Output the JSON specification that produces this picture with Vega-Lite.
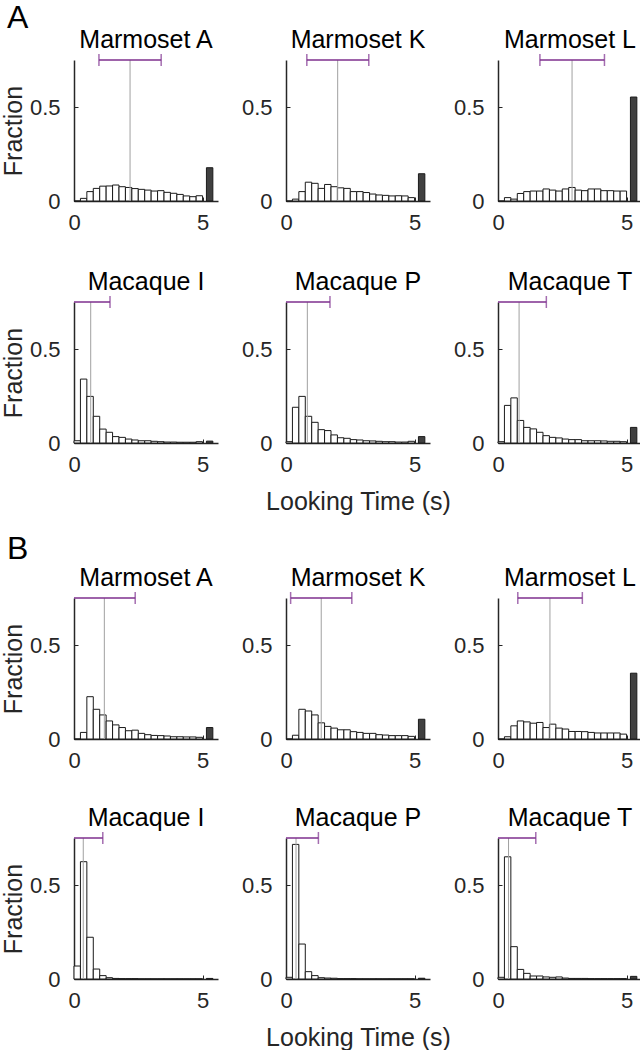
{
"$schema": "https://vega.github.io/schema/vega-lite/v6.json",
"padding": {"left": 1, "top": 2, "right": 5, "bottom": 5},
"background": "white",
"data": {"values": [
{"p":"A1","x":0,"x2":0.25,"f":0},{"p":"A1","x":0.25,"x2":0.5,"f":0.014},{"p":"A1","x":0.5,"x2":0.75,"f":0.05},{"p":"A1","x":0.75,"x2":1,"f":0.067},{"p":"A1","x":1,"x2":1.25,"f":0.079},{"p":"A1","x":1.25,"x2":1.5,"f":0.08},{"p":"A1","x":1.5,"x2":1.75,"f":0.085},{"p":"A1","x":1.75,"x2":2,"f":0.076},{"p":"A1","x":2,"x2":2.25,"f":0.072},{"p":"A1","x":2.25,"x2":2.5,"f":0.066},{"p":"A1","x":2.5,"x2":2.75,"f":0.062},{"p":"A1","x":2.75,"x2":3,"f":0.058},{"p":"A1","x":3,"x2":3.25,"f":0.053},{"p":"A1","x":3.25,"x2":3.5,"f":0.055},{"p":"A1","x":3.5,"x2":3.75,"f":0.046},{"p":"A1","x":3.75,"x2":4,"f":0.041},{"p":"A1","x":4,"x2":4.25,"f":0.035},{"p":"A1","x":4.25,"x2":4.5,"f":0.027},{"p":"A1","x":4.5,"x2":4.75,"f":0.023},{"p":"A1","x":4.75,"x2":5,"f":0.028},{"p":"A1","x":5.15,"x2":5.4,"f":0.177},
{"p":"A2","x":0,"x2":0.25,"f":0},{"p":"A2","x":0.25,"x2":0.5,"f":0.01},{"p":"A2","x":0.5,"x2":0.75,"f":0.05},{"p":"A2","x":0.75,"x2":1,"f":0.1},{"p":"A2","x":1,"x2":1.25,"f":0.094},{"p":"A2","x":1.25,"x2":1.5,"f":0.067},{"p":"A2","x":1.5,"x2":1.75,"f":0.088},{"p":"A2","x":1.75,"x2":2,"f":0.076},{"p":"A2","x":2,"x2":2.25,"f":0.07},{"p":"A2","x":2.25,"x2":2.5,"f":0.067},{"p":"A2","x":2.5,"x2":2.75,"f":0.05},{"p":"A2","x":2.75,"x2":3,"f":0.05},{"p":"A2","x":3,"x2":3.25,"f":0.045},{"p":"A2","x":3.25,"x2":3.5,"f":0.037},{"p":"A2","x":3.5,"x2":3.75,"f":0.032},{"p":"A2","x":3.75,"x2":4,"f":0.03},{"p":"A2","x":4,"x2":4.25,"f":0.027},{"p":"A2","x":4.25,"x2":4.5,"f":0.028},{"p":"A2","x":4.5,"x2":4.75,"f":0.027},{"p":"A2","x":4.75,"x2":5,"f":0.018},{"p":"A2","x":5.15,"x2":5.4,"f":0.145},
{"p":"A3","x":0,"x2":0.25,"f":0},{"p":"A3","x":0.25,"x2":0.5,"f":0.018},{"p":"A3","x":0.5,"x2":0.75,"f":0.01},{"p":"A3","x":0.75,"x2":1,"f":0.04},{"p":"A3","x":1,"x2":1.25,"f":0.05},{"p":"A3","x":1.25,"x2":1.5,"f":0.053},{"p":"A3","x":1.5,"x2":1.75,"f":0.053},{"p":"A3","x":1.75,"x2":2,"f":0.064},{"p":"A3","x":2,"x2":2.25,"f":0.058},{"p":"A3","x":2.25,"x2":2.5,"f":0.053},{"p":"A3","x":2.5,"x2":2.75,"f":0.064},{"p":"A3","x":2.75,"x2":3,"f":0.072},{"p":"A3","x":3,"x2":3.25,"f":0.058},{"p":"A3","x":3.25,"x2":3.5,"f":0.055},{"p":"A3","x":3.5,"x2":3.75,"f":0.064},{"p":"A3","x":3.75,"x2":4,"f":0.064},{"p":"A3","x":4,"x2":4.25,"f":0.055},{"p":"A3","x":4.25,"x2":4.5,"f":0.055},{"p":"A3","x":4.5,"x2":4.75,"f":0.053},{"p":"A3","x":4.75,"x2":5,"f":0.053},{"p":"A3","x":5.15,"x2":5.4,"f":0.553},
{"p":"A4","x":0,"x2":0.25,"f":0.012},{"p":"A4","x":0.25,"x2":0.5,"f":0.34},{"p":"A4","x":0.5,"x2":0.75,"f":0.248},{"p":"A4","x":0.75,"x2":1,"f":0.142},{"p":"A4","x":1,"x2":1.25,"f":0.074},{"p":"A4","x":1.25,"x2":1.5,"f":0.057},{"p":"A4","x":1.5,"x2":1.75,"f":0.034},{"p":"A4","x":1.75,"x2":2,"f":0.03},{"p":"A4","x":2,"x2":2.25,"f":0.021},{"p":"A4","x":2.25,"x2":2.5,"f":0.016},{"p":"A4","x":2.5,"x2":2.75,"f":0.012},{"p":"A4","x":2.75,"x2":3,"f":0.012},{"p":"A4","x":3,"x2":3.25,"f":0.009},{"p":"A4","x":3.25,"x2":3.5,"f":0.007},{"p":"A4","x":3.5,"x2":3.75,"f":0.005},{"p":"A4","x":3.75,"x2":4,"f":0.005},{"p":"A4","x":4,"x2":4.25,"f":0.004},{"p":"A4","x":4.25,"x2":4.5,"f":0.004},{"p":"A4","x":4.5,"x2":4.75,"f":0.004},{"p":"A4","x":4.75,"x2":5,"f":0.007},{"p":"A4","x":5.15,"x2":5.4,"f":0.01},
{"p":"A5","x":0,"x2":0.25,"f":0.007},{"p":"A5","x":0.25,"x2":0.5,"f":0.19},{"p":"A5","x":0.5,"x2":0.75,"f":0.248},{"p":"A5","x":0.75,"x2":1,"f":0.142},{"p":"A5","x":1,"x2":1.25,"f":0.11},{"p":"A5","x":1.25,"x2":1.5,"f":0.071},{"p":"A5","x":1.5,"x2":1.75,"f":0.066},{"p":"A5","x":1.75,"x2":2,"f":0.043},{"p":"A5","x":2,"x2":2.25,"f":0.028},{"p":"A5","x":2.25,"x2":2.5,"f":0.025},{"p":"A5","x":2.5,"x2":2.75,"f":0.018},{"p":"A5","x":2.75,"x2":3,"f":0.016},{"p":"A5","x":3,"x2":3.25,"f":0.012},{"p":"A5","x":3.25,"x2":3.5,"f":0.011},{"p":"A5","x":3.5,"x2":3.75,"f":0.009},{"p":"A5","x":3.75,"x2":4,"f":0.007},{"p":"A5","x":4,"x2":4.25,"f":0.007},{"p":"A5","x":4.25,"x2":4.5,"f":0.005},{"p":"A5","x":4.5,"x2":4.75,"f":0.005},{"p":"A5","x":4.75,"x2":5,"f":0.009},{"p":"A5","x":5.15,"x2":5.4,"f":0.034},
{"p":"A6","x":0,"x2":0.25,"f":0.007},{"p":"A6","x":0.25,"x2":0.5,"f":0.2},{"p":"A6","x":0.5,"x2":0.75,"f":0.24},{"p":"A6","x":0.75,"x2":1,"f":0.12},{"p":"A6","x":1,"x2":1.25,"f":0.083},{"p":"A6","x":1.25,"x2":1.5,"f":0.075},{"p":"A6","x":1.5,"x2":1.75,"f":0.057},{"p":"A6","x":1.75,"x2":2,"f":0.039},{"p":"A6","x":2,"x2":2.25,"f":0.03},{"p":"A6","x":2.25,"x2":2.5,"f":0.027},{"p":"A6","x":2.5,"x2":2.75,"f":0.021},{"p":"A6","x":2.75,"x2":3,"f":0.018},{"p":"A6","x":3,"x2":3.25,"f":0.018},{"p":"A6","x":3.25,"x2":3.5,"f":0.012},{"p":"A6","x":3.5,"x2":3.75,"f":0.012},{"p":"A6","x":3.75,"x2":4,"f":0.012},{"p":"A6","x":4,"x2":4.25,"f":0.011},{"p":"A6","x":4.25,"x2":4.5,"f":0.009},{"p":"A6","x":4.5,"x2":4.75,"f":0.009},{"p":"A6","x":4.75,"x2":5,"f":0.007},{"p":"A6","x":5.15,"x2":5.4,"f":0.083},
{"p":"B1","x":0,"x2":0.25,"f":0},{"p":"B1","x":0.25,"x2":0.5,"f":0.035},{"p":"B1","x":0.5,"x2":0.75,"f":0.225},{"p":"B1","x":0.75,"x2":1,"f":0.158},{"p":"B1","x":1,"x2":1.25,"f":0.128},{"p":"B1","x":1.25,"x2":1.5,"f":0.096},{"p":"B1","x":1.5,"x2":1.75,"f":0.075},{"p":"B1","x":1.75,"x2":2,"f":0.061},{"p":"B1","x":2,"x2":2.25,"f":0.044},{"p":"B1","x":2.25,"x2":2.5,"f":0.047},{"p":"B1","x":2.5,"x2":2.75,"f":0.03},{"p":"B1","x":2.75,"x2":3,"f":0.023},{"p":"B1","x":3,"x2":3.25,"f":0.019},{"p":"B1","x":3.25,"x2":3.5,"f":0.018},{"p":"B1","x":3.5,"x2":3.75,"f":0.016},{"p":"B1","x":3.75,"x2":4,"f":0.012},{"p":"B1","x":4,"x2":4.25,"f":0.012},{"p":"B1","x":4.25,"x2":4.5,"f":0.011},{"p":"B1","x":4.5,"x2":4.75,"f":0.011},{"p":"B1","x":4.75,"x2":5,"f":0.009},{"p":"B1","x":5.15,"x2":5.4,"f":0.061},
{"p":"B2","x":0,"x2":0.25,"f":0},{"p":"B2","x":0.25,"x2":0.5,"f":0.02},{"p":"B2","x":0.5,"x2":0.75,"f":0.158},{"p":"B2","x":0.75,"x2":1,"f":0.149},{"p":"B2","x":1,"x2":1.25,"f":0.128},{"p":"B2","x":1.25,"x2":1.5,"f":0.086},{"p":"B2","x":1.5,"x2":1.75,"f":0.067},{"p":"B2","x":1.75,"x2":2,"f":0.058},{"p":"B2","x":2,"x2":2.25,"f":0.049},{"p":"B2","x":2.25,"x2":2.5,"f":0.049},{"p":"B2","x":2.5,"x2":2.75,"f":0.039},{"p":"B2","x":2.75,"x2":3,"f":0.035},{"p":"B2","x":3,"x2":3.25,"f":0.03},{"p":"B2","x":3.25,"x2":3.5,"f":0.03},{"p":"B2","x":3.5,"x2":3.75,"f":0.023},{"p":"B2","x":3.75,"x2":4,"f":0.021},{"p":"B2","x":4,"x2":4.25,"f":0.018},{"p":"B2","x":4.25,"x2":4.5,"f":0.018},{"p":"B2","x":4.5,"x2":4.75,"f":0.018},{"p":"B2","x":4.75,"x2":5,"f":0.014},{"p":"B2","x":5.15,"x2":5.4,"f":0.105},
{"p":"B3","x":0,"x2":0.25,"f":0},{"p":"B3","x":0.25,"x2":0.5,"f":0.012},{"p":"B3","x":0.5,"x2":0.75,"f":0.07},{"p":"B3","x":0.75,"x2":1,"f":0.096},{"p":"B3","x":1,"x2":1.25,"f":0.091},{"p":"B3","x":1.25,"x2":1.5,"f":0.084},{"p":"B3","x":1.5,"x2":1.75,"f":0.088},{"p":"B3","x":1.75,"x2":2,"f":0.061},{"p":"B3","x":2,"x2":2.25,"f":0.079},{"p":"B3","x":2.25,"x2":2.5,"f":0.058},{"p":"B3","x":2.5,"x2":2.75,"f":0.053},{"p":"B3","x":2.75,"x2":3,"f":0.04},{"p":"B3","x":3,"x2":3.25,"f":0.04},{"p":"B3","x":3.25,"x2":3.5,"f":0.039},{"p":"B3","x":3.5,"x2":3.75,"f":0.035},{"p":"B3","x":3.75,"x2":4,"f":0.032},{"p":"B3","x":4,"x2":4.25,"f":0.032},{"p":"B3","x":4.25,"x2":4.5,"f":0.032},{"p":"B3","x":4.5,"x2":4.75,"f":0.032},{"p":"B3","x":4.75,"x2":5,"f":0.026},{"p":"B3","x":5.15,"x2":5.4,"f":0.35},
{"p":"B4","x":0,"x2":0.25,"f":0.069},{"p":"B4","x":0.25,"x2":0.5,"f":0.624},{"p":"B4","x":0.5,"x2":0.75,"f":0.222},{"p":"B4","x":0.75,"x2":1,"f":0.053},{"p":"B4","x":1,"x2":1.25,"f":0.018},{"p":"B4","x":1.25,"x2":1.5,"f":0.007},{"p":"B4","x":1.5,"x2":1.75,"f":0.003},{"p":"B4","x":1.75,"x2":2,"f":0.002},{"p":"B4","x":2,"x2":2.25,"f":0.002},{"p":"B4","x":2.25,"x2":2.5,"f":0.002},{"p":"B4","x":2.5,"x2":2.75,"f":0.001},{"p":"B4","x":2.75,"x2":3,"f":0.001},{"p":"B4","x":3,"x2":3.25,"f":0.001},{"p":"B4","x":3.25,"x2":3.5,"f":0.001},{"p":"B4","x":3.5,"x2":3.75,"f":0.001},{"p":"B4","x":3.75,"x2":4,"f":0.001},{"p":"B4","x":4,"x2":4.25,"f":0.001},{"p":"B4","x":4.25,"x2":4.5,"f":0.001},{"p":"B4","x":4.5,"x2":4.75,"f":0.001},{"p":"B4","x":4.75,"x2":5,"f":0.001},{"p":"B4","x":5.15,"x2":5.4,"f":0.003},
{"p":"B5","x":0,"x2":0.25,"f":0.009},{"p":"B5","x":0.25,"x2":0.5,"f":0.716},{"p":"B5","x":0.5,"x2":0.75,"f":0.186},{"p":"B5","x":0.75,"x2":1,"f":0.039},{"p":"B5","x":1,"x2":1.25,"f":0.018},{"p":"B5","x":1.25,"x2":1.5,"f":0.007},{"p":"B5","x":1.5,"x2":1.75,"f":0.005},{"p":"B5","x":1.75,"x2":2,"f":0.004},{"p":"B5","x":2,"x2":2.25,"f":0.002},{"p":"B5","x":2.25,"x2":2.5,"f":0.002},{"p":"B5","x":2.5,"x2":2.75,"f":0.002},{"p":"B5","x":2.75,"x2":3,"f":0.001},{"p":"B5","x":3,"x2":3.25,"f":0.001},{"p":"B5","x":3.25,"x2":3.5,"f":0.001},{"p":"B5","x":3.5,"x2":3.75,"f":0.001},{"p":"B5","x":3.75,"x2":4,"f":0.001},{"p":"B5","x":4,"x2":4.25,"f":0.001},{"p":"B5","x":4.25,"x2":4.5,"f":0.001},{"p":"B5","x":4.5,"x2":4.75,"f":0.001},{"p":"B5","x":4.75,"x2":5,"f":0.001},{"p":"B5","x":5.15,"x2":5.4,"f":0.004},
{"p":"B6","x":0,"x2":0.25,"f":0.009},{"p":"B6","x":0.25,"x2":0.5,"f":0.65},{"p":"B6","x":0.5,"x2":0.75,"f":0.172},{"p":"B6","x":0.75,"x2":1,"f":0.051},{"p":"B6","x":1,"x2":1.25,"f":0.03},{"p":"B6","x":1.25,"x2":1.5,"f":0.016},{"p":"B6","x":1.5,"x2":1.75,"f":0.016},{"p":"B6","x":1.75,"x2":2,"f":0.011},{"p":"B6","x":2,"x2":2.25,"f":0.009},{"p":"B6","x":2.25,"x2":2.5,"f":0.011},{"p":"B6","x":2.5,"x2":2.75,"f":0.005},{"p":"B6","x":2.75,"x2":3,"f":0.003},{"p":"B6","x":3,"x2":3.25,"f":0.003},{"p":"B6","x":3.25,"x2":3.5,"f":0.003},{"p":"B6","x":3.5,"x2":3.75,"f":0.002},{"p":"B6","x":3.75,"x2":4,"f":0.002},{"p":"B6","x":4,"x2":4.25,"f":0.002},{"p":"B6","x":4.25,"x2":4.5,"f":0.002},{"p":"B6","x":4.5,"x2":4.75,"f":0.002},{"p":"B6","x":4.75,"x2":5,"f":0.002},{"p":"B6","x":5.15,"x2":5.4,"f":0.014},
{"p":"A1","m":2.18,"lo":0.97,"hi":3.39},
{"p":"A2","m":2.01,"lo":0.81,"hi":3.22},
{"p":"A3","m":2.88,"lo":1.63,"hi":4.14},
{"p":"A4","m":0.65,"lo":0,"hi":1.4},
{"p":"A5","m":0.83,"lo":0,"hi":1.71},
{"p":"A6","m":0.82,"lo":0,"hi":1.88},
{"p":"B1","m":1.18,"lo":0,"hi":2.38},
{"p":"B2","m":1.37,"lo":0.18,"hi":2.56},
{"p":"B3","m":2.02,"lo":0.77,"hi":3.28},
{"p":"B4","m":0.36,"lo":0,"hi":1.12},
{"p":"B5","m":0.39,"lo":0,"hi":1.26},
{"p":"B6","m":0.41,"lo":0,"hi":1.47}
]},
"config": {
 "font": "Liberation Sans",
 "view": {"stroke": null},
 "scale": {"continuousPadding": 0},
 "axis": {"grid": false, "labelFlush": false, "domainColor": "#262626", "domainWidth": 1.5, "tickColor": "#262626", "tickSize": -4, "tickWidth": 1, "labelFontSize": 22, "labelColor": "#262626", "titleFontSize": 25, "titleFontWeight": "normal", "titleColor": "#262626", "labelFont": "Liberation Sans", "titleFont": "Liberation Sans"},
 "axisX": {"labelPadding": 15, "titlePadding": 14},
 "axisY": {"labelPadding": 18, "titlePadding": 3},
 "title": {"fontSize": 25, "fontWeight": "normal", "color": "#000000", "frame": "group", "offset": 1, "font": "Liberation Sans"}
},
"spacing": 19,
"vconcat": [
{"title": {"text": "A", "anchor": "start", "fontSize": 32, "dx": -67, "offset": -7}, "spacing": 37, "vconcat": [
 {"spacing": 68, "bounds": "flush", "hconcat": [
  {"width": 144, "height": 141, "title": "Marmoset A", "transform": [{"filter": {"field": "p", "equal": "A1"}}], "layer": [
   {"transform": [{"filter": "isValid(datum.f)"}], "mark": {"type": "rect", "stroke": "#1a1a1a", "strokeWidth": 1}, "encoding": {"x": {"field": "x", "type": "quantitative", "scale": {"domain": [0, 5.6], "nice": false, "padding": 0}, "axis": {"values": [0, 5], "format": "~g", "title": null}}, "x2": {"field": "x2"}, "y": {"field": "f", "type": "quantitative", "scale": {"domain": [0, 0.75], "nice": false, "padding": 0}, "axis": {"values": [0, 0.5], "format": "~g", "title": "Fraction"}}, "y2": {"datum": 0}, "fill": {"condition": {"test": "datum.x > 5", "value": "#404040"}, "value": "#ffffff"}}},
   {"transform": [{"filter": "isValid(datum.m)"}], "mark": {"type": "rule", "color": "#a0a0a0", "strokeWidth": 1}, "encoding": {"x": {"field": "m", "type": "quantitative"}, "y": {"datum": 0}, "y2": {"datum": 0.75}}},
   {"transform": [{"filter": "isValid(datum.m)"}], "mark": {"type": "rule", "color": "#7e2f8e", "strokeWidth": 1.5}, "encoding": {"x": {"field": "lo", "type": "quantitative"}, "x2": {"field": "hi"}, "y": {"datum": 0.75}}},
   {"transform": [{"filter": "isValid(datum.m)"}, {"fold": ["lo", "hi"]}, {"filter": "datum.value > 0"}], "mark": {"type": "tick", "orient": "vertical", "color": "#7e2f8e", "size": 12, "thickness": 1.5}, "encoding": {"x": {"field": "value", "type": "quantitative"}, "y": {"datum": 0.75}}}
  ]},
  {"width": 144, "height": 141, "title": "Marmoset K", "transform": [{"filter": {"field": "p", "equal": "A2"}}], "layer": [
   {"transform": [{"filter": "isValid(datum.f)"}], "mark": {"type": "rect", "stroke": "#1a1a1a", "strokeWidth": 1}, "encoding": {"x": {"field": "x", "type": "quantitative", "scale": {"domain": [0, 5.6], "nice": false, "padding": 0}, "axis": {"values": [0, 5], "format": "~g", "title": null}}, "x2": {"field": "x2"}, "y": {"field": "f", "type": "quantitative", "scale": {"domain": [0, 0.75], "nice": false, "padding": 0}, "axis": {"values": [0, 0.5], "format": "~g", "title": null}}, "y2": {"datum": 0}, "fill": {"condition": {"test": "datum.x > 5", "value": "#404040"}, "value": "#ffffff"}}},
   {"transform": [{"filter": "isValid(datum.m)"}], "mark": {"type": "rule", "color": "#a0a0a0", "strokeWidth": 1}, "encoding": {"x": {"field": "m", "type": "quantitative"}, "y": {"datum": 0}, "y2": {"datum": 0.75}}},
   {"transform": [{"filter": "isValid(datum.m)"}], "mark": {"type": "rule", "color": "#7e2f8e", "strokeWidth": 1.5}, "encoding": {"x": {"field": "lo", "type": "quantitative"}, "x2": {"field": "hi"}, "y": {"datum": 0.75}}},
   {"transform": [{"filter": "isValid(datum.m)"}, {"fold": ["lo", "hi"]}, {"filter": "datum.value > 0"}], "mark": {"type": "tick", "orient": "vertical", "color": "#7e2f8e", "size": 12, "thickness": 1.5}, "encoding": {"x": {"field": "value", "type": "quantitative"}, "y": {"datum": 0.75}}}
  ]},
  {"width": 144, "height": 141, "title": "Marmoset L", "transform": [{"filter": {"field": "p", "equal": "A3"}}], "layer": [
   {"transform": [{"filter": "isValid(datum.f)"}], "mark": {"type": "rect", "stroke": "#1a1a1a", "strokeWidth": 1}, "encoding": {"x": {"field": "x", "type": "quantitative", "scale": {"domain": [0, 5.6], "nice": false, "padding": 0}, "axis": {"values": [0, 5], "format": "~g", "title": null}}, "x2": {"field": "x2"}, "y": {"field": "f", "type": "quantitative", "scale": {"domain": [0, 0.75], "nice": false, "padding": 0}, "axis": {"values": [0, 0.5], "format": "~g", "title": null}}, "y2": {"datum": 0}, "fill": {"condition": {"test": "datum.x > 5", "value": "#404040"}, "value": "#ffffff"}}},
   {"transform": [{"filter": "isValid(datum.m)"}], "mark": {"type": "rule", "color": "#a0a0a0", "strokeWidth": 1}, "encoding": {"x": {"field": "m", "type": "quantitative"}, "y": {"datum": 0}, "y2": {"datum": 0.75}}},
   {"transform": [{"filter": "isValid(datum.m)"}], "mark": {"type": "rule", "color": "#7e2f8e", "strokeWidth": 1.5}, "encoding": {"x": {"field": "lo", "type": "quantitative"}, "x2": {"field": "hi"}, "y": {"datum": 0.75}}},
   {"transform": [{"filter": "isValid(datum.m)"}, {"fold": ["lo", "hi"]}, {"filter": "datum.value > 0"}], "mark": {"type": "tick", "orient": "vertical", "color": "#7e2f8e", "size": 12, "thickness": 1.5}, "encoding": {"x": {"field": "value", "type": "quantitative"}, "y": {"datum": 0.75}}}
  ]}
 ]},
 {"spacing": 68, "bounds": "flush", "hconcat": [
  {"width": 144, "height": 141, "title": "Macaque I", "transform": [{"filter": {"field": "p", "equal": "A4"}}], "layer": [
   {"transform": [{"filter": "isValid(datum.f)"}], "mark": {"type": "rect", "stroke": "#1a1a1a", "strokeWidth": 1}, "encoding": {"x": {"field": "x", "type": "quantitative", "scale": {"domain": [0, 5.6], "nice": false, "padding": 0}, "axis": {"values": [0, 5], "format": "~g", "title": null}}, "x2": {"field": "x2"}, "y": {"field": "f", "type": "quantitative", "scale": {"domain": [0, 0.75], "nice": false, "padding": 0}, "axis": {"values": [0, 0.5], "format": "~g", "title": "Fraction"}}, "y2": {"datum": 0}, "fill": {"condition": {"test": "datum.x > 5", "value": "#404040"}, "value": "#ffffff"}}},
   {"transform": [{"filter": "isValid(datum.m)"}], "mark": {"type": "rule", "color": "#a0a0a0", "strokeWidth": 1}, "encoding": {"x": {"field": "m", "type": "quantitative"}, "y": {"datum": 0}, "y2": {"datum": 0.75}}},
   {"transform": [{"filter": "isValid(datum.m)"}], "mark": {"type": "rule", "color": "#7e2f8e", "strokeWidth": 1.5}, "encoding": {"x": {"field": "lo", "type": "quantitative"}, "x2": {"field": "hi"}, "y": {"datum": 0.75}}},
   {"transform": [{"filter": "isValid(datum.m)"}, {"fold": ["lo", "hi"]}, {"filter": "datum.value > 0"}], "mark": {"type": "tick", "orient": "vertical", "color": "#7e2f8e", "size": 12, "thickness": 1.5}, "encoding": {"x": {"field": "value", "type": "quantitative"}, "y": {"datum": 0.75}}}
  ]},
  {"width": 144, "height": 141, "title": "Macaque P", "transform": [{"filter": {"field": "p", "equal": "A5"}}], "layer": [
   {"transform": [{"filter": "isValid(datum.f)"}], "mark": {"type": "rect", "stroke": "#1a1a1a", "strokeWidth": 1}, "encoding": {"x": {"field": "x", "type": "quantitative", "scale": {"domain": [0, 5.6], "nice": false, "padding": 0}, "axis": {"values": [0, 5], "format": "~g", "title": "Looking Time (s)"}}, "x2": {"field": "x2"}, "y": {"field": "f", "type": "quantitative", "scale": {"domain": [0, 0.75], "nice": false, "padding": 0}, "axis": {"values": [0, 0.5], "format": "~g", "title": null}}, "y2": {"datum": 0}, "fill": {"condition": {"test": "datum.x > 5", "value": "#404040"}, "value": "#ffffff"}}},
   {"transform": [{"filter": "isValid(datum.m)"}], "mark": {"type": "rule", "color": "#a0a0a0", "strokeWidth": 1}, "encoding": {"x": {"field": "m", "type": "quantitative"}, "y": {"datum": 0}, "y2": {"datum": 0.75}}},
   {"transform": [{"filter": "isValid(datum.m)"}], "mark": {"type": "rule", "color": "#7e2f8e", "strokeWidth": 1.5}, "encoding": {"x": {"field": "lo", "type": "quantitative"}, "x2": {"field": "hi"}, "y": {"datum": 0.75}}},
   {"transform": [{"filter": "isValid(datum.m)"}, {"fold": ["lo", "hi"]}, {"filter": "datum.value > 0"}], "mark": {"type": "tick", "orient": "vertical", "color": "#7e2f8e", "size": 12, "thickness": 1.5}, "encoding": {"x": {"field": "value", "type": "quantitative"}, "y": {"datum": 0.75}}}
  ]},
  {"width": 144, "height": 141, "title": "Macaque T", "transform": [{"filter": {"field": "p", "equal": "A6"}}], "layer": [
   {"transform": [{"filter": "isValid(datum.f)"}], "mark": {"type": "rect", "stroke": "#1a1a1a", "strokeWidth": 1}, "encoding": {"x": {"field": "x", "type": "quantitative", "scale": {"domain": [0, 5.6], "nice": false, "padding": 0}, "axis": {"values": [0, 5], "format": "~g", "title": null}}, "x2": {"field": "x2"}, "y": {"field": "f", "type": "quantitative", "scale": {"domain": [0, 0.75], "nice": false, "padding": 0}, "axis": {"values": [0, 0.5], "format": "~g", "title": null}}, "y2": {"datum": 0}, "fill": {"condition": {"test": "datum.x > 5", "value": "#404040"}, "value": "#ffffff"}}},
   {"transform": [{"filter": "isValid(datum.m)"}], "mark": {"type": "rule", "color": "#a0a0a0", "strokeWidth": 1}, "encoding": {"x": {"field": "m", "type": "quantitative"}, "y": {"datum": 0}, "y2": {"datum": 0.75}}},
   {"transform": [{"filter": "isValid(datum.m)"}], "mark": {"type": "rule", "color": "#7e2f8e", "strokeWidth": 1.5}, "encoding": {"x": {"field": "lo", "type": "quantitative"}, "x2": {"field": "hi"}, "y": {"datum": 0.75}}},
   {"transform": [{"filter": "isValid(datum.m)"}, {"fold": ["lo", "hi"]}, {"filter": "datum.value > 0"}], "mark": {"type": "tick", "orient": "vertical", "color": "#7e2f8e", "size": 12, "thickness": 1.5}, "encoding": {"x": {"field": "value", "type": "quantitative"}, "y": {"datum": 0.75}}}
  ]}
 ]}
]},
{"title": {"text": "B", "anchor": "start", "fontSize": 32, "dx": -67, "offset": 0}, "spacing": 35, "vconcat": [
 {"spacing": 68, "bounds": "flush", "hconcat": [
  {"width": 144, "height": 141, "title": "Marmoset A", "transform": [{"filter": {"field": "p", "equal": "B1"}}], "layer": [
   {"transform": [{"filter": "isValid(datum.f)"}], "mark": {"type": "rect", "stroke": "#1a1a1a", "strokeWidth": 1}, "encoding": {"x": {"field": "x", "type": "quantitative", "scale": {"domain": [0, 5.6], "nice": false, "padding": 0}, "axis": {"values": [0, 5], "format": "~g", "title": null}}, "x2": {"field": "x2"}, "y": {"field": "f", "type": "quantitative", "scale": {"domain": [0, 0.75], "nice": false, "padding": 0}, "axis": {"values": [0, 0.5], "format": "~g", "title": "Fraction"}}, "y2": {"datum": 0}, "fill": {"condition": {"test": "datum.x > 5", "value": "#404040"}, "value": "#ffffff"}}},
   {"transform": [{"filter": "isValid(datum.m)"}], "mark": {"type": "rule", "color": "#a0a0a0", "strokeWidth": 1}, "encoding": {"x": {"field": "m", "type": "quantitative"}, "y": {"datum": 0}, "y2": {"datum": 0.75}}},
   {"transform": [{"filter": "isValid(datum.m)"}], "mark": {"type": "rule", "color": "#7e2f8e", "strokeWidth": 1.5}, "encoding": {"x": {"field": "lo", "type": "quantitative"}, "x2": {"field": "hi"}, "y": {"datum": 0.75}}},
   {"transform": [{"filter": "isValid(datum.m)"}, {"fold": ["lo", "hi"]}, {"filter": "datum.value > 0"}], "mark": {"type": "tick", "orient": "vertical", "color": "#7e2f8e", "size": 12, "thickness": 1.5}, "encoding": {"x": {"field": "value", "type": "quantitative"}, "y": {"datum": 0.75}}}
  ]},
  {"width": 144, "height": 141, "title": "Marmoset K", "transform": [{"filter": {"field": "p", "equal": "B2"}}], "layer": [
   {"transform": [{"filter": "isValid(datum.f)"}], "mark": {"type": "rect", "stroke": "#1a1a1a", "strokeWidth": 1}, "encoding": {"x": {"field": "x", "type": "quantitative", "scale": {"domain": [0, 5.6], "nice": false, "padding": 0}, "axis": {"values": [0, 5], "format": "~g", "title": null}}, "x2": {"field": "x2"}, "y": {"field": "f", "type": "quantitative", "scale": {"domain": [0, 0.75], "nice": false, "padding": 0}, "axis": {"values": [0, 0.5], "format": "~g", "title": null}}, "y2": {"datum": 0}, "fill": {"condition": {"test": "datum.x > 5", "value": "#404040"}, "value": "#ffffff"}}},
   {"transform": [{"filter": "isValid(datum.m)"}], "mark": {"type": "rule", "color": "#a0a0a0", "strokeWidth": 1}, "encoding": {"x": {"field": "m", "type": "quantitative"}, "y": {"datum": 0}, "y2": {"datum": 0.75}}},
   {"transform": [{"filter": "isValid(datum.m)"}], "mark": {"type": "rule", "color": "#7e2f8e", "strokeWidth": 1.5}, "encoding": {"x": {"field": "lo", "type": "quantitative"}, "x2": {"field": "hi"}, "y": {"datum": 0.75}}},
   {"transform": [{"filter": "isValid(datum.m)"}, {"fold": ["lo", "hi"]}, {"filter": "datum.value > 0"}], "mark": {"type": "tick", "orient": "vertical", "color": "#7e2f8e", "size": 12, "thickness": 1.5}, "encoding": {"x": {"field": "value", "type": "quantitative"}, "y": {"datum": 0.75}}}
  ]},
  {"width": 144, "height": 141, "title": "Marmoset L", "transform": [{"filter": {"field": "p", "equal": "B3"}}], "layer": [
   {"transform": [{"filter": "isValid(datum.f)"}], "mark": {"type": "rect", "stroke": "#1a1a1a", "strokeWidth": 1}, "encoding": {"x": {"field": "x", "type": "quantitative", "scale": {"domain": [0, 5.6], "nice": false, "padding": 0}, "axis": {"values": [0, 5], "format": "~g", "title": null}}, "x2": {"field": "x2"}, "y": {"field": "f", "type": "quantitative", "scale": {"domain": [0, 0.75], "nice": false, "padding": 0}, "axis": {"values": [0, 0.5], "format": "~g", "title": null}}, "y2": {"datum": 0}, "fill": {"condition": {"test": "datum.x > 5", "value": "#404040"}, "value": "#ffffff"}}},
   {"transform": [{"filter": "isValid(datum.m)"}], "mark": {"type": "rule", "color": "#a0a0a0", "strokeWidth": 1}, "encoding": {"x": {"field": "m", "type": "quantitative"}, "y": {"datum": 0}, "y2": {"datum": 0.75}}},
   {"transform": [{"filter": "isValid(datum.m)"}], "mark": {"type": "rule", "color": "#7e2f8e", "strokeWidth": 1.5}, "encoding": {"x": {"field": "lo", "type": "quantitative"}, "x2": {"field": "hi"}, "y": {"datum": 0.75}}},
   {"transform": [{"filter": "isValid(datum.m)"}, {"fold": ["lo", "hi"]}, {"filter": "datum.value > 0"}], "mark": {"type": "tick", "orient": "vertical", "color": "#7e2f8e", "size": 12, "thickness": 1.5}, "encoding": {"x": {"field": "value", "type": "quantitative"}, "y": {"datum": 0.75}}}
  ]}
 ]},
 {"spacing": 68, "bounds": "flush", "hconcat": [
  {"width": 144, "height": 141, "title": "Macaque I", "transform": [{"filter": {"field": "p", "equal": "B4"}}], "layer": [
   {"transform": [{"filter": "isValid(datum.f)"}], "mark": {"type": "rect", "stroke": "#1a1a1a", "strokeWidth": 1}, "encoding": {"x": {"field": "x", "type": "quantitative", "scale": {"domain": [0, 5.6], "nice": false, "padding": 0}, "axis": {"values": [0, 5], "format": "~g", "title": null}}, "x2": {"field": "x2"}, "y": {"field": "f", "type": "quantitative", "scale": {"domain": [0, 0.75], "nice": false, "padding": 0}, "axis": {"values": [0, 0.5], "format": "~g", "title": "Fraction"}}, "y2": {"datum": 0}, "fill": {"condition": {"test": "datum.x > 5", "value": "#404040"}, "value": "#ffffff"}}},
   {"transform": [{"filter": "isValid(datum.m)"}], "mark": {"type": "rule", "color": "#a0a0a0", "strokeWidth": 1}, "encoding": {"x": {"field": "m", "type": "quantitative"}, "y": {"datum": 0}, "y2": {"datum": 0.75}}},
   {"transform": [{"filter": "isValid(datum.m)"}], "mark": {"type": "rule", "color": "#7e2f8e", "strokeWidth": 1.5}, "encoding": {"x": {"field": "lo", "type": "quantitative"}, "x2": {"field": "hi"}, "y": {"datum": 0.75}}},
   {"transform": [{"filter": "isValid(datum.m)"}, {"fold": ["lo", "hi"]}, {"filter": "datum.value > 0"}], "mark": {"type": "tick", "orient": "vertical", "color": "#7e2f8e", "size": 12, "thickness": 1.5}, "encoding": {"x": {"field": "value", "type": "quantitative"}, "y": {"datum": 0.75}}}
  ]},
  {"width": 144, "height": 141, "title": "Macaque P", "transform": [{"filter": {"field": "p", "equal": "B5"}}], "layer": [
   {"transform": [{"filter": "isValid(datum.f)"}], "mark": {"type": "rect", "stroke": "#1a1a1a", "strokeWidth": 1}, "encoding": {"x": {"field": "x", "type": "quantitative", "scale": {"domain": [0, 5.6], "nice": false, "padding": 0}, "axis": {"values": [0, 5], "format": "~g", "title": "Looking Time (s)"}}, "x2": {"field": "x2"}, "y": {"field": "f", "type": "quantitative", "scale": {"domain": [0, 0.75], "nice": false, "padding": 0}, "axis": {"values": [0, 0.5], "format": "~g", "title": null}}, "y2": {"datum": 0}, "fill": {"condition": {"test": "datum.x > 5", "value": "#404040"}, "value": "#ffffff"}}},
   {"transform": [{"filter": "isValid(datum.m)"}], "mark": {"type": "rule", "color": "#a0a0a0", "strokeWidth": 1}, "encoding": {"x": {"field": "m", "type": "quantitative"}, "y": {"datum": 0}, "y2": {"datum": 0.75}}},
   {"transform": [{"filter": "isValid(datum.m)"}], "mark": {"type": "rule", "color": "#7e2f8e", "strokeWidth": 1.5}, "encoding": {"x": {"field": "lo", "type": "quantitative"}, "x2": {"field": "hi"}, "y": {"datum": 0.75}}},
   {"transform": [{"filter": "isValid(datum.m)"}, {"fold": ["lo", "hi"]}, {"filter": "datum.value > 0"}], "mark": {"type": "tick", "orient": "vertical", "color": "#7e2f8e", "size": 12, "thickness": 1.5}, "encoding": {"x": {"field": "value", "type": "quantitative"}, "y": {"datum": 0.75}}}
  ]},
  {"width": 144, "height": 141, "title": "Macaque T", "transform": [{"filter": {"field": "p", "equal": "B6"}}], "layer": [
   {"transform": [{"filter": "isValid(datum.f)"}], "mark": {"type": "rect", "stroke": "#1a1a1a", "strokeWidth": 1}, "encoding": {"x": {"field": "x", "type": "quantitative", "scale": {"domain": [0, 5.6], "nice": false, "padding": 0}, "axis": {"values": [0, 5], "format": "~g", "title": null}}, "x2": {"field": "x2"}, "y": {"field": "f", "type": "quantitative", "scale": {"domain": [0, 0.75], "nice": false, "padding": 0}, "axis": {"values": [0, 0.5], "format": "~g", "title": null}}, "y2": {"datum": 0}, "fill": {"condition": {"test": "datum.x > 5", "value": "#404040"}, "value": "#ffffff"}}},
   {"transform": [{"filter": "isValid(datum.m)"}], "mark": {"type": "rule", "color": "#a0a0a0", "strokeWidth": 1}, "encoding": {"x": {"field": "m", "type": "quantitative"}, "y": {"datum": 0}, "y2": {"datum": 0.75}}},
   {"transform": [{"filter": "isValid(datum.m)"}], "mark": {"type": "rule", "color": "#7e2f8e", "strokeWidth": 1.5}, "encoding": {"x": {"field": "lo", "type": "quantitative"}, "x2": {"field": "hi"}, "y": {"datum": 0.75}}},
   {"transform": [{"filter": "isValid(datum.m)"}, {"fold": ["lo", "hi"]}, {"filter": "datum.value > 0"}], "mark": {"type": "tick", "orient": "vertical", "color": "#7e2f8e", "size": 12, "thickness": 1.5}, "encoding": {"x": {"field": "value", "type": "quantitative"}, "y": {"datum": 0.75}}}
  ]}
 ]}
]}
]
}
